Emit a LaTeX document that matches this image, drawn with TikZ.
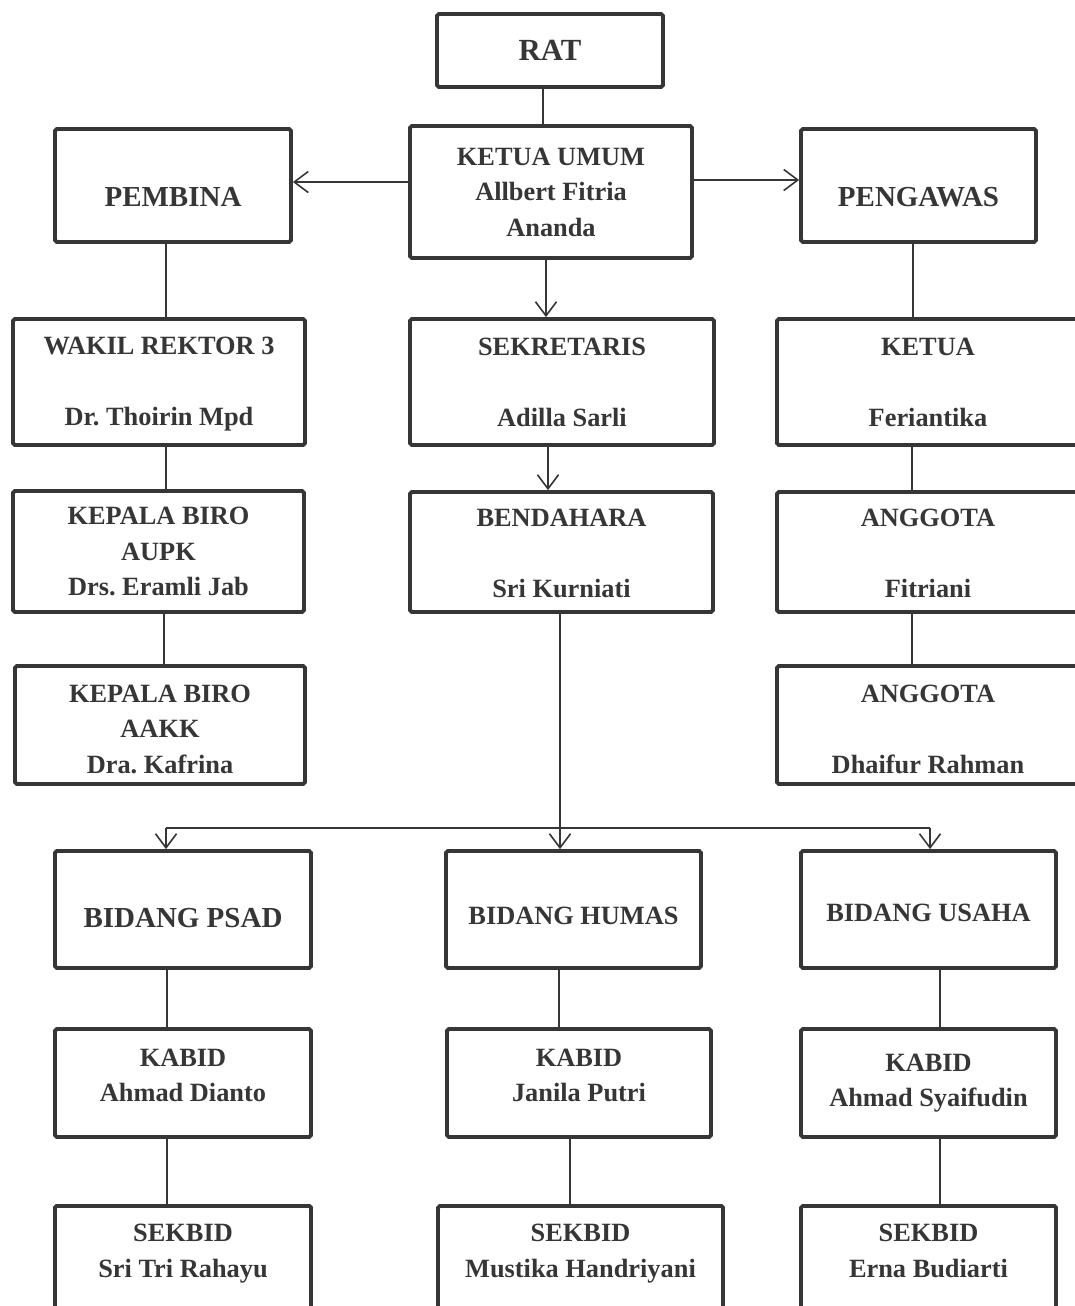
\documentclass[tikz,border=0pt]{standalone}
\usepackage{fontspec}
\setmainfont{Liberation Serif}
\usetikzlibrary{arrows.meta}
\definecolor{ink}{HTML}{363636}
\frenchspacing

\begin{document}
\begin{tikzpicture}[x=0.02cm, y=-0.02cm]
    \useasboundingbox (0,0) rectangle (1075,1306);
    \fill[white] (0,0) rectangle (1075,1306);
    \clip (0,0) rectangle (1075,1306);

    \begin{scope}[every node/.style={draw=ink, line width=2.2pt, rounded corners=1pt, fill=white, text=ink, inner sep=0pt, align=center, font=\frenchspacing\bfseries\fontsize{15}{20.2}\selectfont}]
        % top
        \node[minimum width=4.52cm, minimum height=1.46cm, font=\bfseries\fontsize{17.5}{21}\selectfont] (rat) at (550,50.5) {RAT};
        \node[minimum width=5.64cm, minimum height=2.64cm] (ketuaumum) at (551,192) {KETUA UMUM\\Allbert Fitria\\Ananda};
        \node[minimum width=4.72cm, minimum height=2.26cm, font=\bfseries\fontsize{16.5}{20}\selectfont] (pembina) at (173,185.5) {\rule{0pt}{24pt}PEMBINA};
        \node[minimum width=4.70cm, minimum height=2.26cm, font=\bfseries\fontsize{16.5}{20}\selectfont] (pengawas) at (918.5,185.5) {\rule{0pt}{24pt}PENGAWAS};

        % pembina column
        \node[minimum width=5.84cm, minimum height=2.52cm] (wakil) at (159,382) {\rule{0pt}{12pt}WAKIL REKTOR 3\\[20.2pt]Dr. Thoirin Mpd};
        \node[minimum width=5.82cm, minimum height=2.42cm] (aupk) at (158.5,551.5) {KEPALA BIRO\\AUPK\\Drs. Eramli Jab};
        \node[minimum width=5.80cm, minimum height=2.36cm] (aakk) at (160,725) {\rule{0pt}{14.5pt}KEPALA BIRO\\AAKK\\Dra. Kafrina};

        % middle column
        \node[minimum width=6.08cm, minimum height=2.52cm] (sekretaris) at (562,382) {SEKRETARIS\\[20.2pt]Adilla Sarli};
        \node[minimum width=6.06cm, minimum height=2.40cm] (bendahara) at (561.5,552) {\rule{0pt}{12pt}BENDAHARA\\[20.2pt]Sri Kurniati};

        % pengawas column
        \node[minimum width=6.04cm, minimum height=2.52cm] (ketua) at (928,382) {KETUA\\[20.2pt]Feriantika};
        \node[minimum width=6.04cm, minimum height=2.40cm] (fitriani) at (928,552) {\rule{0pt}{12pt}ANGGOTA\\[20.2pt]Fitriani};
        \node[minimum width=6.04cm, minimum height=2.36cm] (dhaifur) at (928,725) {\rule{0pt}{14.5pt}ANGGOTA\\[20.2pt]Dhaifur Rahman};

        % bidang
        \node[minimum width=5.12cm, minimum height=2.34cm, font=\bfseries\fontsize{16.5}{20}\selectfont] (psad) at (183,909.5) {\rule{0pt}{20.5pt}BIDANG PSAD};
        \node[minimum width=5.10cm, minimum height=2.34cm] (humas) at (573.5,909.5) {\rule{0pt}{17.3pt}BIDANG HUMAS};
        \node[minimum width=5.10cm, minimum height=2.34cm] (usaha) at (928.5,909.5) {\rule{0pt}{14pt}BIDANG USAHA};

        \node[minimum width=5.12cm, minimum height=2.16cm] (kabid1) at (183,1083) {KABID\\Ahmad Dianto\rule[-8.5pt]{0pt}{8.5pt}};
        \node[minimum width=5.28cm, minimum height=2.16cm] (kabid2) at (579,1083) {KABID\\Janila Putri\rule[-8.5pt]{0pt}{8.5pt}};
        \node[minimum width=5.10cm, minimum height=2.16cm] (kabid3) at (928.5,1083) {KABID\\Ahmad Syaifudin};

        \node[anchor=north, inner ysep=10.5pt, minimum width=5.12cm] (sekbid1) at (183,1204) {SEKBID\\Sri Tri Rahayu\rule[-60pt]{0pt}{60pt}};
        \node[anchor=north, inner ysep=10.5pt, minimum width=5.70cm] (sekbid2) at (580.5,1204) {SEKBID\\Mustika Handriyani\rule[-60pt]{0pt}{60pt}};
        \node[anchor=north, inner ysep=10.5pt, minimum width=5.10cm] (sekbid3) at (928.5,1204) {SEKBID\\Erna Budiarti\rule[-60pt]{0pt}{60pt}};
    \end{scope}

    \coordinate (bus) at (560,828);
    \coordinate (busL) at (166,828);
    \coordinate (busR) at (930,828);

    \begin{scope}[every edge/.style={draw=ink, line width=0.9pt}, >={Straight Barb[length=8pt,width=12pt]}]
        \path [-] (rat.south -| 543,0) edge (ketuaumum.north -| 543,0);
        \path [->] (ketuaumum.west |- 0,182) edge (pembina.east |- 0,182);
        \path [->] (ketuaumum.east |- 0,180) edge (pengawas.west |- 0,180);
        \path [->] (ketuaumum.south -| 546,0) edge (sekretaris.north -| 546,0);
        \path [->] (sekretaris.south -| 548,0) edge (bendahara.north -| 548,0);

        \path [-] (pembina.south -| 166,0) edge (wakil.north -| 166,0);
        \path [-] (wakil.south -| 166,0) edge (aupk.north -| 166,0);
        \path [-] (aupk.south -| 164,0) edge (aakk.north -| 164,0);

        \path [-] (pengawas.south -| 913,0) edge (ketua.north -| 913,0);
        \path [-] (ketua.south -| 912,0) edge (fitriani.north -| 912,0);
        \path [-] (fitriani.south -| 912,0) edge (dhaifur.north -| 912,0);

        \path [-] (bendahara.south -| bus) edge (bus);
        \path [-] (busL) edge (busR);
        \path [->] (busL) edge (psad.north -| busL);
        \path [->] (bus) edge (humas.north -| bus);
        \path [->] (busR) edge (usaha.north -| busR);

        \path [-] (psad.south -| 167,0) edge (kabid1.north -| 167,0);
        \path [-] (kabid1.south -| 167,0) edge (sekbid1.north -| 167,0);
        \path [-] (humas.south -| 559,0) edge (kabid2.north -| 559,0);
        \path [-] (kabid2.south -| 570,0) edge (sekbid2.north -| 570,0);
        \path [-] (usaha.south -| 940,0) edge (kabid3.north -| 940,0);
        \path [-] (kabid3.south -| 940,0) edge (sekbid3.north -| 940,0);
    \end{scope}
\end{tikzpicture}
\end{document}
